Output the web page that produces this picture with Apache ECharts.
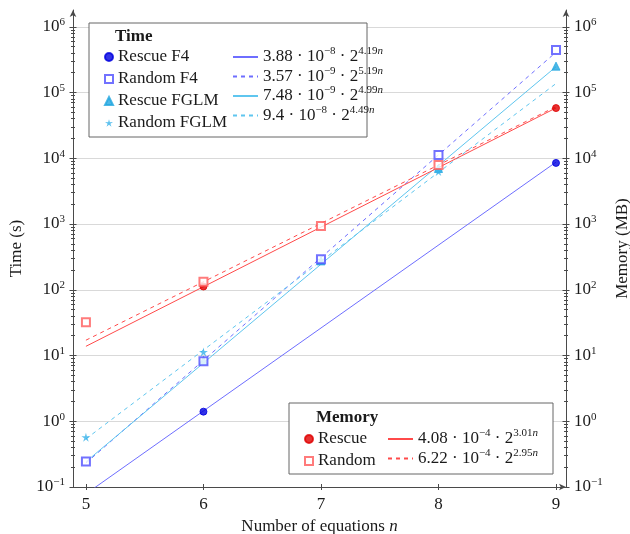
<!DOCTYPE html>
<html>
<head>
<meta charset="utf-8">
<script src="https://cdn.jsdelivr.net/npm/echarts@6/dist/echarts.min.js"></script>
<style>
  html, body { margin: 0; padding: 0; background: #fff; }
  #main { width: 630px; height: 534px; }
</style>
</head>
<body>
<div id="main"></div>
<script>
// number of equations
const nValues = [5, 6, 7, 8, 9];

// time (s), null where no mark is visible
const rescueF4Time = [null, 1.4, null, null, 8500];
const randomF4Time = [0.245, 8.2, 292, 11200, 445000];
const rescueFglmTime = [null, 8.4, 275, 7000, 252000];
const randomFglmTime = [0.57, 11.3, 285, 6300, null];

// memory (MB)
const rescueMem = [null, 112, null, null, 58000];
const randomMem = [32, 132, 930, 7900, null];

// fitted lines, value at n = 5 and n = 9
const fitN = [5, 9];
const rescueF4Fit = [0.0786, 8730];
const randomF4Fit = [0.231, 411000];
const rescueFglmFit = [0.242, 247000];
const randomFglmFit = [0.539, 137000];
const rescueMemFit = [13.8, 58300];
const randomMemFit = [17.1, 61100];

// legend formulas: coefficient, power of ten, rate
const timeNames = ['Rescue F4', 'Random F4', 'Rescue FGLM', 'Random FGLM'];
const timeFitNames = ['Rescue F4 fit', 'Random F4 fit', 'Rescue FGLM fit', 'Random FGLM fit'];
const timeFitCoef = ['3.88', '3.57', '7.48', '9.4'];
const timeFitPow = ['−8', '−9', '−9', '−8'];
const timeFitRate = ['4.19', '5.19', '4.99', '4.49'];
const memNames = ['Rescue', 'Random'];
const memFitNames = ['Rescue mem fit', 'Random mem fit'];
const memFitCoef = ['4.08', '6.22'];
const memFitPow = ['−4', '−4'];
const memFitRate = ['3.01', '2.95'];

// y ticks
const majorTicks = [0.1, 1, 10, 100, 1e3, 1e4, 1e5, 1e6];
const minorSteps = [2, 3, 4, 5, 6, 7, 8, 9];
const minorTicks = [];
majorTicks.forEach(m => minorSteps.forEach(s => { if (m * s < 1.8e6) minorTicks.push(m * s) }));

const font = '"Liberation Serif", serif';
const ink = '#1a1a1a';
const axisColor = '#4a4a4a';

const blueMark = '#0000e0', blueLine = '#6e6eff', blueSquare = '#4f4fff';
const cyanMark = '#22a6e0', cyanLine = '#5fc6ef', cyanStar = '#36b2ea';
const redMark = '#e00000', redLine = '#ff4a4a', redSquare = '#ff5a5a';

function pts(arr) {
  return nValues.map((n, i) => [n, arr[i]]).filter(p => p[1] != null);
}
function fitPts(arr) {
  return fitN.map((n, i) => [n, arr[i]]);
}
function starPath(R, r) {
  let d = '';
  for (let k = 0; k < 10; k++) {
    const a = Math.PI / 2 + k * Math.PI / 5;
    const rr = k % 2 ? r : R;
    d += (k ? 'L' : 'M') + (rr * Math.cos(a)).toFixed(2) + ' ' + (-rr * Math.sin(a)).toFixed(2);
  }
  return 'path://' + d + 'Z';
}

function fitLine(name, data, color, dashed, axis) {
  return {
    name: name, type: 'line', yAxisIndex: axis, data: fitPts(data),
    symbol: 'none', silent: true, z: 2,
    lineStyle: { color: color, width: 1, type: dashed ? [4, 4] : 'solid' },
    itemStyle: { color: color }
  };
}
function marks(name, data, symbol, size, color, axis, border) {
  return {
    name: name, type: 'scatter', yAxisIndex: axis, data: pts(data),
    symbol: symbol, symbolSize: size, silent: true, z: 3,
    itemStyle: { color: color, borderColor: color, borderWidth: border }
  };
}

const richText = {
  t: { fontFamily: font, fontSize: 17, color: ink, lineHeight: 22 },
  s: { fontFamily: font, fontSize: 11, color: ink, lineHeight: 14, verticalAlign: 'top' },
  si: { fontFamily: font, fontSize: 11, color: ink, lineHeight: 14, verticalAlign: 'top', fontStyle: 'italic' }
};
function formula(coef, pow, rate) {
  return '{t|' + coef + ' · 10}{s|' + pow + '}{t| · 2}{s|' + rate + '}{si|n}';
}

function tickAxis(pos, values, len, off) {
  return {
    type: 'log', min: 0.1, max: 1.8e6, position: pos, offset: off,
    axisLine: { show: false },
    axisTick: { show: true, customValues: values, length: len, lineStyle: { color: axisColor } },
    axisLabel: { show: false },
    splitLine: { show: false }
  };
}
function mainYAxis(pos, name, gap) {
  return {
    type: 'log', min: 0.1, max: 1.8e6, position: pos,
    name: name, nameLocation: 'middle', nameGap: gap, nameRotate: 90,
    nameTextStyle: { fontFamily: font, fontSize: 17, color: ink },
    axisLine: { show: true, symbol: ['none', 'arrow'], symbolSize: [5, 7], lineStyle: { color: axisColor, width: 1 } },
    axisTick: { show: false },
    axisLabel: {
      customValues: majorTicks, margin: 8,
      formatter: v => '{b|10}{e|' + String(Math.round(Math.log10(v))).replace('-', '−') + '}',
      rich: {
        b: { fontFamily: font, fontSize: 17, color: ink, lineHeight: 20 },
        e: { fontFamily: font, fontSize: 11, color: ink, lineHeight: 12, verticalAlign: 'top' }
      }
    },
    splitLine: { show: false }
  };
}

// legends for the fits show only the line sample
const lineLegendItem = { color: 'transparent', borderColor: 'transparent', borderWidth: 0 };

const myChart = echarts.init(document.getElementById('main'));

var option = {
  animation: false,
  backgroundColor: '#fff',
  grid: { left: 73, right: 64, top: 10, bottom: 47, outerBoundsMode: 'none' },
  xAxis: [
    {
      type: 'value', min: 4.89, max: 9.085, position: 'bottom',
      name: '{a|Number of equations }{i|n}', nameLocation: 'middle', nameGap: 29,
      nameTextStyle: {
        rich: {
          a: { fontFamily: font, fontSize: 17, color: ink },
          i: { fontFamily: font, fontSize: 17, color: ink, fontStyle: 'italic' }
        }
      },
      axisLine: { show: true, symbol: ['none', 'arrow'], symbolSize: [5, 7], lineStyle: { color: axisColor, width: 1 } },
      axisTick: { show: false },
      axisLabel: { customValues: nValues, margin: 9, fontFamily: font, fontSize: 17, color: ink },
      splitLine: { show: false }
    },
    {
      type: 'value', min: 4.89, max: 9.085, position: 'bottom', offset: -3,
      axisLine: { show: false },
      axisTick: { show: true, customValues: nValues, length: 6, lineStyle: { color: axisColor } },
      axisLabel: { show: false },
      splitLine: { show: false }
    }
  ],
  yAxis: [
    mainYAxis('left', 'Time (s)', 38),
    mainYAxis('right', 'Memory (MB)', 48),
    Object.assign(tickAxis('left', majorTicks, 7, -3.5), {
      splitLine: { show: true, lineStyle: { color: '#d9d9d9', width: 1 } }
    }),
    tickAxis('left', minorTicks, 4, -2),
    tickAxis('right', majorTicks, 7, -3.5),
    tickAxis('right', minorTicks, 4, -2)
  ],
  legend: [
    {
      data: timeNames, orient: 'vertical', left: 104, top: 46, padding: 0,
      itemWidth: 8, itemHeight: 8, itemGap: 0, selectedMode: false, z: 10,
      textStyle: { fontFamily: font, fontSize: 17, color: ink, lineHeight: 22 }
    },
    {
      data: timeFitNames, orient: 'vertical', left: 232, top: 46, padding: 0,
      itemWidth: 25, itemHeight: 8, itemGap: 0, selectedMode: false, z: 10,
      itemStyle: lineLegendItem,
      formatter: name => {
        const i = timeFitNames.indexOf(name);
        return formula(timeFitCoef[i], timeFitPow[i], timeFitRate[i]);
      },
      textStyle: { rich: richText }
    },
    {
      data: memNames, orient: 'vertical', left: 304, top: 428, padding: 0,
      itemWidth: 8, itemHeight: 8, itemGap: 0, selectedMode: false, z: 10,
      textStyle: { fontFamily: font, fontSize: 17, color: ink, lineHeight: 22 }
    },
    {
      data: memFitNames, orient: 'vertical', left: 387, top: 428, padding: 0,
      itemWidth: 25, itemHeight: 8, itemGap: 0, selectedMode: false, z: 10,
      itemStyle: lineLegendItem,
      formatter: name => {
        const i = memFitNames.indexOf(name);
        return formula(memFitCoef[i], memFitPow[i], memFitRate[i]);
      },
      textStyle: { rich: richText }
    }
  ],
  graphic: [
    { type: 'rect', z: 5, shape: { x: 89, y: 23, width: 278, height: 114 }, style: { fill: '#fff', stroke: '#666', lineWidth: 1 } },
    { type: 'text', z: 6, style: { x: 115, y: 37, text: 'Time', font: 'bold 17px "Liberation Serif"', fill: ink, verticalAlign: 'middle' } },
    { type: 'rect', z: 5, shape: { x: 289, y: 403, width: 264, height: 71 }, style: { fill: '#fff', stroke: '#666', lineWidth: 1 } },
    { type: 'text', z: 6, style: { x: 316, y: 418, text: 'Memory', font: 'bold 17px "Liberation Serif"', fill: ink, verticalAlign: 'middle' } }
  ],
  series: [
    fitLine('Rescue F4 fit', rescueF4Fit, blueLine, false, 0),
    fitLine('Random F4 fit', randomF4Fit, blueLine, true, 0),
    fitLine('Rescue FGLM fit', rescueFglmFit, cyanLine, false, 0),
    fitLine('Random FGLM fit', randomFglmFit, cyanLine, true, 0),
    fitLine('Rescue mem fit', rescueMemFit, redLine, false, 1),
    fitLine('Random mem fit', randomMemFit, redLine, true, 1),
    marks('Rescue F4', rescueF4Time, 'circle', 7, blueMark, 0, 1),
    marks('Rescue FGLM', rescueFglmTime, 'triangle', 8, cyanMark, 0, 1),
    marks('Random FGLM', randomFglmTime, starPath(4, 1.4), 9, cyanStar, 0, 0),
    marks('Random F4', randomF4Time, 'emptyRect', 8, blueSquare, 0, 1),
    marks('Rescue', rescueMem, 'circle', 7, redMark, 1, 1),
    marks('Random', randomMem, 'emptyRect', 8, redSquare, 1, 1)
  ]
};

myChart.setOption(option);
</script>
</body>
</html>
